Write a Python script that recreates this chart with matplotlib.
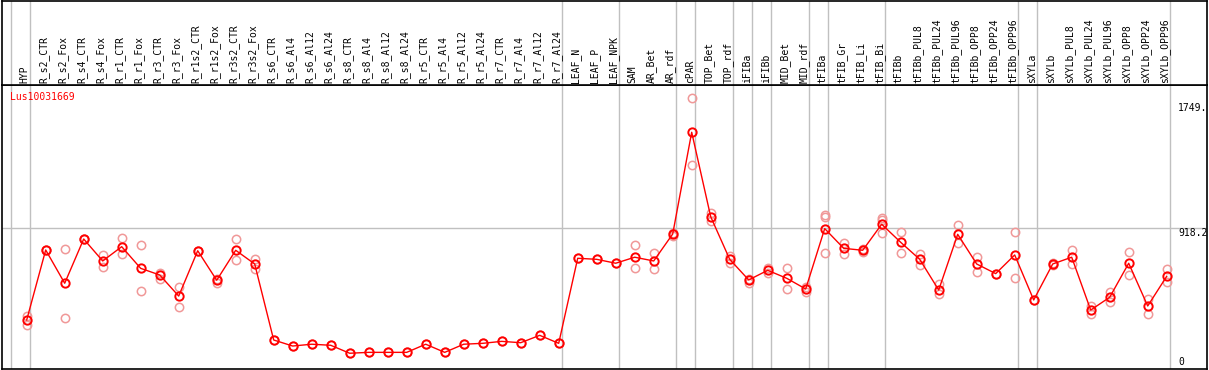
import numpy as np
import matplotlib
matplotlib.use("Agg")
import matplotlib.pyplot as plt

# Sample names (one column each)
samples = ["HYP", "R_s2_CTR", "R_s2_Fox", "R_s4_CTR", "R_s4_Fox", "R_r1_CTR", "R_r1_Fox",
           "R_r3_CTR", "R_r3_Fox", "R_r1s2_CTR", "R_r1s2_Fox", "R_r3s2_CTR", "R_r3s2_Fox",
           "R_s6_CTR", "R_s6_Al4", "R_s6_Al12", "R_s6_Al24", "R_s8_CTR", "R_s8_Al4",
           "R_s8_Al12", "R_s8_Al24", "R_r5_CTR", "R_r5_Al4", "R_r5_Al12", "R_r5_Al24",
           "R_r7_CTR", "R_r7_Al4", "R_r7_Al12", "R_r7_Al24", "LEAF_N", "LEAF_P", "LEAF_NPK",
           "SAM", "AR_Bet", "AR_rdf", "cPAR", "TOP_Bet", "TOP_rdf", "iFIBa", "iFIBb",
           "MID_Bet", "MID_rdf", "tFIBa", "tFIB_Gr", "tFIB_Li", "tFIB_Bi", "tFIBb",
           "tFIBb_PUL8", "tFIBb_PUL24", "tFIBb_PUL96", "tFIBb_OPP8", "tFIBb_OPP24",
           "tFIBb_OPP96", "sXYLa", "sXYLb", "sXYLb_PUL8", "sXYLb_PUL24", "sXYLb_PUL96",
           "sXYLb_OPP8", "sXYLb_OPP24", "sXYLb_OPP96"]

# mean expression per sample
means = [309, 774, 553, 847, 701, 796, 652, 608, 468, 769, 573, 772, 681,
         176, 136, 148, 141, 88, 94, 94, 94, 148, 94, 148, 154, 167, 158, 207, 154,
         719, 712, 686, 726, 701, 880, 1556, 995, 712, 575, 639, 586, 515,
         916, 785, 772, 945, 825, 712, 508, 878, 681, 617, 741,
         442, 681, 726, 375, 460, 686, 402, 599]

# individual replicates
reps = [[338, 276], [774, 774], [779, 322], [847, 847], [741, 663], [852, 746],
        [805, 502], [619, 581], [530, 397], [769, 769], [583, 557], [847, 706],
        [714, 646], [176], [136], [148], [141], [88], [94], [94], [94], [148], [94],
        [148], [154], [167], [158], [207], [154], [719], [712], [686],
        [805, 652], [754, 646], [889, 867], [1782, 1337], [1018, 965], [734, 690],
        [583, 555], [654, 623], [652, 517], [530, 493], [1007, 991, 754], [823, 748],
        [780, 763], [989, 973, 885], [892, 754], [748, 672], [546, 480], [940, 819],
        [728, 626], [617], [892, 586], [442], [690, 672], [774, 679], [404, 347],
        [493, 431], [761, 606], [449, 349], [650, 559]]

# group separators (column index where a new group starts)
group_starts = [0, 1, 29, 32, 35, 36, 38, 39, 40, 42, 43, 46, 53, 54, 61]

gene = "Lus10031669"
ref_value = 918.2
max_label = "1749."

W, H = 1209, 370
fig = plt.figure(figsize=(W / 100, H / 100), dpi=100)
font = dict(family="DejaVu Sans Mono", size=7)

xmin, xmax = (1.5 - 26.7) / 19, (1207 - 26.7) / 19
top_px, bot_px = 85, 369
ax = fig.add_axes([1.5 / W, (H - bot_px) / H, (1207 - 1.5) / W, (bot_px - top_px) / H])
hd = fig.add_axes([1.5 / W, (H - top_px) / H, (1207 - 1.5) / W, (top_px - 0.5) / H])

ax.set_xlim(xmin, xmax)
ax.set_ylim(-16.6, 1870)
hd.set_xlim(xmin, xmax)
hd.set_ylim(0, 1)

for a in (ax, hd):
    a.set_xticks([])
    a.set_yticks([])
    for s in a.spines.values():
        s.set_color("black")
        s.set_linewidth(1.2)

gray = "#c0c0c0"
for k in group_starts:
    ax.axvline(k - 0.83, color=gray, lw=1, zorder=1)
    hd.axvline(k - 0.83, color=gray, lw=1, zorder=1)
ax.axhline(ref_value, color=gray, lw=1, zorder=1)

x = np.arange(len(samples))
for i, r in enumerate(reps):
    ax.plot([i] * len(r), r, linestyle="none", marker="o", ms=6, mfc="none",
            mec="#f09898", mew=1.1, zorder=2)
ax.plot(x, means, color="red", lw=1, zorder=3)
ax.plot(x, means, linestyle="none", marker="o", ms=6, mfc="none", mec="red",
        mew=1.4, zorder=4)

for i, name in enumerate(samples):
    hd.text(i - 0.1, 0.025, name, rotation=90, ha="center", va="bottom", **font)

ax.text(-0.88, 1793, gene, color="red", ha="left", va="center", **font)
xl = (1178 - 26.7) / 19
ax.text(xl, 1749, max_label, ha="left", va="top", **font)
ax.text(xl, ref_value, "918.2", ha="left", va="top", **font)
ax.text(xl, 0, "0", ha="left", va="bottom", **font)

fig.savefig("out.png", dpi=100)
